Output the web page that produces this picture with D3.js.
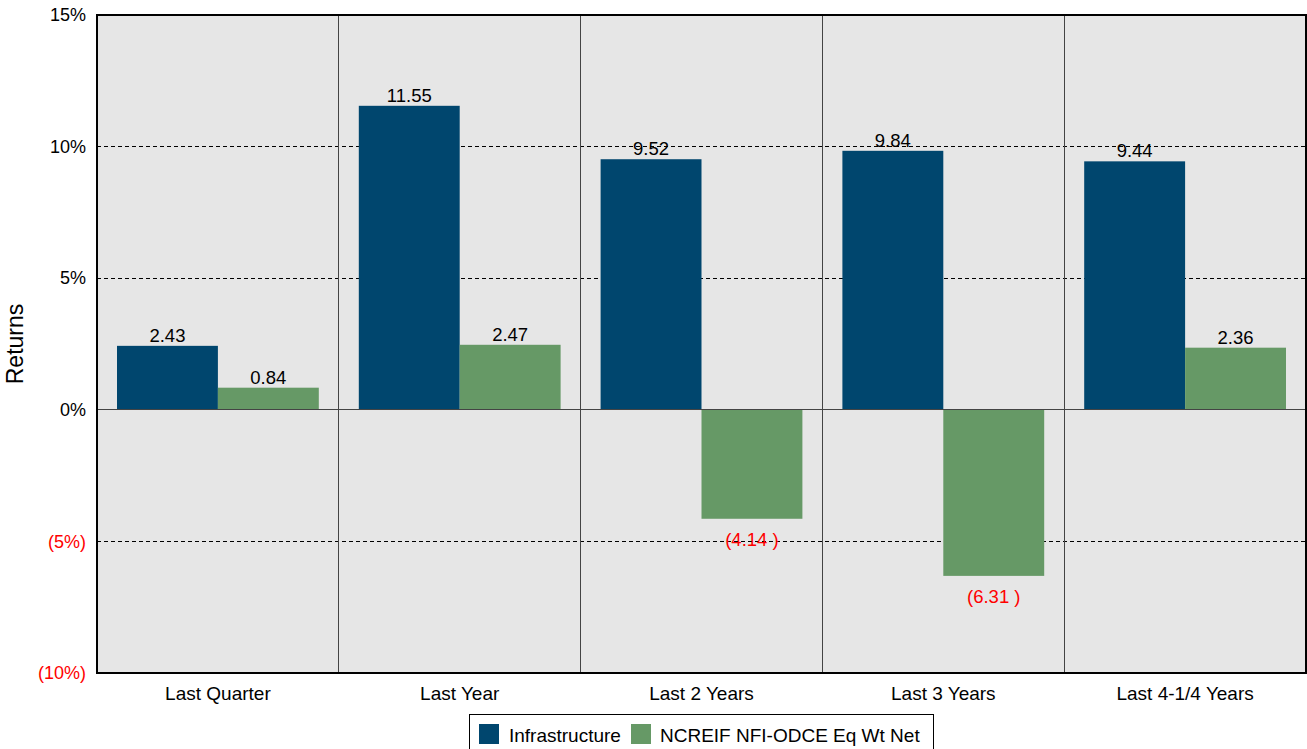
<!DOCTYPE html>
<html><head><meta charset="utf-8">
<script src="https://cdn.jsdelivr.net/npm/d3@7"></script>
<style>body{margin:0;background:#fff;font-family:"Liberation Sans",Arial,sans-serif}</style>
</head><body><svg id="c" width="1307" height="749"></svg>
<script>
const categories=["Last Quarter","Last Year","Last 2 Years","Last 3 Years","Last 4-1/4 Years"];
const seriesNames=["Infrastructure","NCREIF NFI-ODCE Eq Wt Net"];
const infrastructure=[2.43,11.55,9.52,9.84,9.44];
const ncreif=[0.84,2.47,-4.14,-6.31,2.36];
const yTicks=[15,10,5,0,-5,-10];
const colors=["#00466e","#669966"];

const FONT="Liberation Sans, Arial, sans-serif";
const svg=d3.select("#c");
const L=97,R=1306,T=15,B=673;
const x=d3.scaleBand().domain(categories).range([L,R]).paddingInner(0).paddingOuter(0);
const xs=d3.scaleBand().domain([0,1]).range([20,x.bandwidth()-20]).paddingOuter(0).paddingInner(0);
const y=d3.scaleLinear().domain([-10,15]).range([B,T]);

svg.append("rect").attr("x",L).attr("y",T).attr("width",R-L).attr("height",B-T).attr("fill","#e6e6e6");

yTicks.filter(t=>t!==15&&t!==-10&&t!==0).forEach(t=>{
  svg.append("line").attr("x1",L).attr("x2",R).attr("y1",y(t)).attr("y2",y(t))
    .attr("stroke","#000").attr("stroke-width",1).attr("stroke-dasharray","4,3").attr("shape-rendering","crispEdges");
});
categories.slice(1).forEach(c=>{
  svg.append("line").attr("x1",x(c)).attr("x2",x(c)).attr("y1",T).attr("y2",B)
    .attr("stroke","#444").attr("stroke-width",1).attr("shape-rendering","crispEdges");
});

const data=[infrastructure,ncreif];
const g=svg.append("g");
categories.forEach((c,i)=>{
  data.forEach((s,j)=>{
    const v=s[i];
    g.append("rect").attr("x",x(c)+xs(j)).attr("width",xs.bandwidth())
      .attr("y",y(Math.max(0,v))).attr("height",Math.abs(y(v)-y(0)))
      .attr("fill",colors[j]);
  });
});
svg.append("line").attr("x1",L).attr("x2",R).attr("y1",y(0)).attr("y2",y(0))
  .attr("stroke","#444").attr("stroke-width",1).attr("shape-rendering","crispEdges");
categories.forEach((c,i)=>{
  data.forEach((s,j)=>{
    const v=s[i];
    const cx=x(c)+xs(j)+xs.bandwidth()/2;
    g.append("text").attr("x",cx).attr("text-anchor","middle")
      .attr("y",v>=0?y(v)-4:y(v)+27)
      .attr("font-size",18.5).attr("font-family",FONT).attr("fill",v>=0?"#000":"#ff0000")
      .text(v>=0?v.toFixed(2):"("+Math.abs(v).toFixed(2)+" )");
  });
});
svg.append("rect").attr("x",L).attr("y",T).attr("width",R-L).attr("height",B-T)
  .attr("fill","none").attr("stroke","#000").attr("stroke-width",1.3).attr("shape-rendering","crispEdges");

const yAxis=d3.axisLeft(y).tickValues(yTicks).tickSize(0).tickPadding(11)
  .tickFormat(d=>d<0?"("+Math.abs(d)+"%)":d+"%");
const ya=svg.append("g").attr("transform",`translate(${L},0)`).call(yAxis);
ya.select(".domain").remove();
ya.attr("font-size",null).attr("font-family",null);
ya.selectAll("text").attr("font-size",18).attr("font-family",FONT)
  .attr("fill",d=>d<0?"#ff0000":"#000");

const xAxis=d3.axisBottom(x).tickSize(0).tickPadding(14);
const xa=svg.append("g").attr("transform",`translate(0,${B})`).call(xAxis);
xa.select(".domain").remove();
xa.attr("font-size",null).attr("font-family",null);
xa.selectAll("text").attr("font-size",19).attr("font-family",FONT).attr("fill","#000");

svg.append("text").attr("transform","translate(23,344) rotate(-90)").attr("text-anchor","middle")
  .attr("font-size",23).attr("font-family",FONT).text("Returns");

const lg=svg.append("g");
lg.append("rect").attr("x",469.5).attr("y",714.5).attr("width",464).attr("height",40)
  .attr("fill","#fff").attr("stroke","#000").attr("stroke-width",1);
const items=[{x:479,tx:509},{x:631,tx:660}];
seriesNames.forEach((n,j)=>{
  lg.append("rect").attr("x",items[j].x).attr("y",724).attr("width",20).attr("height",20).attr("fill",colors[j]);
  lg.append("text").attr("x",items[j].tx).attr("y",742).attr("font-size",19).attr("font-family",FONT).text(n);
});
</script></body></html>
